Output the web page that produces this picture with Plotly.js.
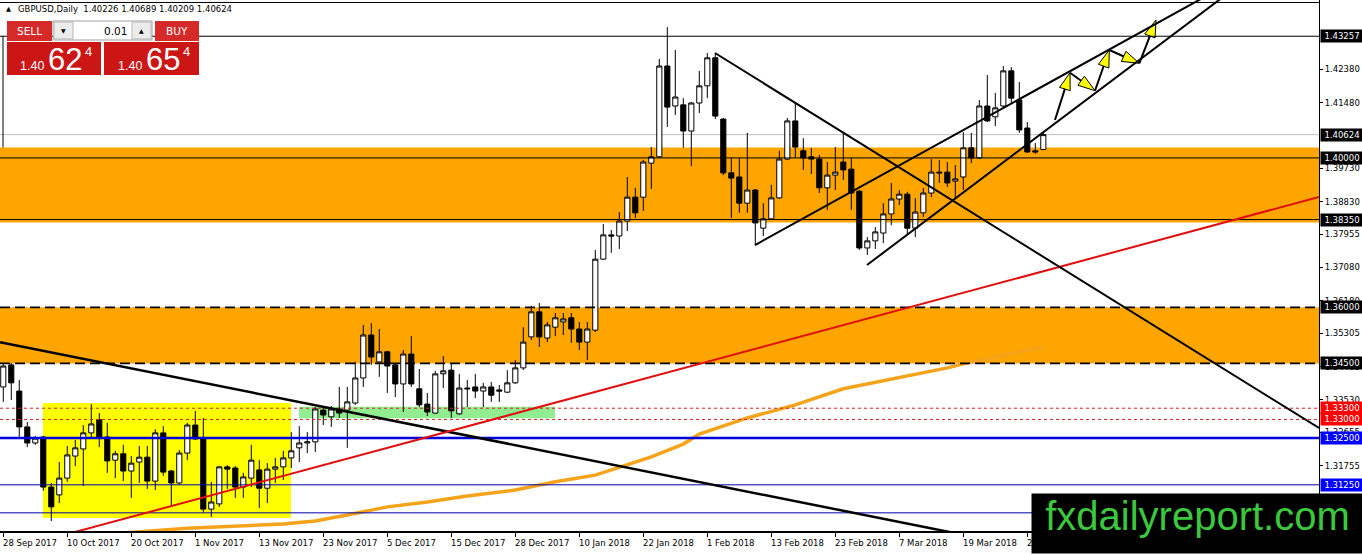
<!DOCTYPE html>
<html><head><meta charset="utf-8">
<script src="https://cdn.plot.ly/plotly-3.0.1.min.js"></script>
<style>html,body{margin:0;padding:0;background:#fff;overflow:hidden}#chart{width:1362px;height:554px}</style>
</head><body><div id="chart"></div>
<script>
// ---------------- DATA ----------------
const dates = [
'2017-09-28','2017-09-29',
'2017-10-02','2017-10-03','2017-10-04','2017-10-05','2017-10-06',
'2017-10-09','2017-10-10','2017-10-11','2017-10-12','2017-10-13',
'2017-10-16','2017-10-17','2017-10-18','2017-10-19','2017-10-20',
'2017-10-23','2017-10-24','2017-10-25','2017-10-26','2017-10-27',
'2017-10-30','2017-10-31','2017-11-01','2017-11-02','2017-11-03',
'2017-11-06','2017-11-07','2017-11-08','2017-11-09','2017-11-10',
'2017-11-13','2017-11-14','2017-11-15','2017-11-16','2017-11-17',
'2017-11-20','2017-11-21','2017-11-22','2017-11-23','2017-11-24',
'2017-11-27','2017-11-28','2017-11-29','2017-11-30','2017-12-01',
'2017-12-04','2017-12-05','2017-12-06','2017-12-07','2017-12-08',
'2017-12-11','2017-12-12','2017-12-13','2017-12-14','2017-12-15',
'2017-12-18','2017-12-19','2017-12-20','2017-12-21','2017-12-22',
'2017-12-26','2017-12-27','2017-12-28','2017-12-29',
'2018-01-02','2018-01-03','2018-01-04','2018-01-05',
'2018-01-08','2018-01-09','2018-01-10','2018-01-11','2018-01-12',
'2018-01-15','2018-01-16','2018-01-17','2018-01-18','2018-01-19',
'2018-01-22','2018-01-23','2018-01-24','2018-01-25','2018-01-26',
'2018-01-29','2018-01-30','2018-01-31','2018-02-01','2018-02-02',
'2018-02-05','2018-02-06','2018-02-07','2018-02-08','2018-02-09',
'2018-02-12','2018-02-13','2018-02-14','2018-02-15','2018-02-16',
'2018-02-19','2018-02-20','2018-02-21','2018-02-22','2018-02-23',
'2018-02-26','2018-02-27','2018-02-28','2018-03-01','2018-03-02',
'2018-03-05','2018-03-06','2018-03-07','2018-03-08','2018-03-09',
'2018-03-12','2018-03-13','2018-03-14','2018-03-15','2018-03-16',
'2018-03-19','2018-03-20','2018-03-21','2018-03-22','2018-03-23',
'2018-03-26','2018-03-27','2018-03-28','2018-03-29','2018-03-30',
'2018-04-02'];

const open = [1.3387,1.3446,1.3376,1.3280,1.3237,1.3253,1.3119,1.3098,1.3143,1.3202,
1.3221,1.3264,1.3299,1.3253,1.3191,1.3208,1.3162,1.3186,1.3199,1.3135,
1.3264,1.3162,1.3130,1.3210,1.3285,1.3248,1.3060,1.3074,1.3173,1.3170,
1.3119,1.3143,1.3165,1.3116,1.3167,1.3173,1.3197,1.3224,1.3237,1.3240,
1.3325,1.3307,1.3328,1.3325,1.3344,1.3411,1.3526,1.3454,1.3481,1.3446,
1.3395,1.3475,1.3382,1.3341,1.3317,1.3422,1.3432,1.3315,1.3384,1.3387,
1.3376,1.3387,1.3379,1.3373,1.3398,1.3438,1.3521,1.3588,1.3518,1.3547,
1.3561,1.3572,1.3542,1.3507,1.3539,1.3729,1.3794,1.3791,1.3831,1.3895,
1.3895,1.3986,1.4003,1.4246,1.4139,1.4142,1.4072,1.4147,1.4193,1.4268,
1.4104,1.3960,1.3949,1.3879,1.3914,1.3812,1.3837,1.3893,1.3997,1.4099,
1.4019,1.4003,1.3997,1.3920,1.3954,1.3989,1.3970,1.3911,1.3759,1.3778,
1.3799,1.3850,1.3890,1.3903,1.3812,1.3853,1.3906,1.3962,1.3962,1.3938,
1.3949,1.4027,1.4000,1.4139,1.4110,1.4139,1.4233,1.4155,1.4080,1.4019,
1.40226];
const high = [1.3451,1.3451,1.3406,1.3293,1.3256,1.3256,1.3130,1.3186,1.3229,1.3245,
1.3285,1.3341,1.3317,1.3291,1.3216,1.3232,1.3202,1.3229,1.3229,1.3274,
1.3282,1.3165,1.3218,1.3291,1.3323,1.3304,1.3133,1.3175,1.3178,1.3175,
1.3157,1.3232,1.3191,1.3183,1.3197,1.3216,1.3266,1.3282,1.3266,1.3333,
1.3333,1.3336,1.3387,1.3387,1.3454,1.3553,1.3558,1.3542,1.3484,1.3449,
1.3486,1.3523,1.3435,1.3371,1.3430,1.3470,1.3451,1.3422,1.3406,1.3422,
1.3398,1.3400,1.3392,1.3432,1.3459,1.3547,1.3604,1.3612,1.3561,1.3585,
1.3585,1.3585,1.3561,1.3561,1.3754,1.3823,1.3807,1.3855,1.3949,1.3920,
1.3994,1.4029,1.4265,1.4350,1.4289,1.4160,1.4150,1.4233,1.4281,1.4281,
1.4107,1.4000,1.4000,1.4067,1.3917,1.3879,1.3928,1.4019,1.4107,1.4147,
1.4053,1.4027,1.4008,1.3989,1.4029,1.4067,1.4000,1.3914,1.3788,1.3815,
1.3879,1.3933,1.3914,1.3909,1.3893,1.3920,1.3997,1.3994,1.3989,1.3981,
1.4069,1.4067,1.4155,1.4222,1.4174,1.4246,1.4243,1.4203,1.4096,1.4040,
1.40689];
const low = [1.3347,1.3352,1.3253,1.3226,1.3232,1.3109,1.3028,1.3076,1.3133,1.3175,
1.3122,1.3250,1.3226,1.3157,1.3143,1.3135,1.3090,1.3130,1.3114,1.3111,
1.3149,1.3071,1.3125,1.3191,1.3245,1.3050,1.3039,1.3066,1.3114,1.3090,
1.3090,1.3119,1.3063,1.3076,1.3130,1.3138,1.3170,1.3186,1.3210,1.3213,
1.3285,1.3280,1.3304,1.3224,1.3339,1.3387,1.3446,1.3414,1.3371,1.3360,
1.3320,1.3387,1.3333,1.3309,1.3315,1.3384,1.3304,1.3312,1.3333,1.3357,
1.3333,1.3347,1.3347,1.3371,1.3395,1.3432,1.3513,1.3494,1.3507,1.3523,
1.3526,1.3505,1.3486,1.3459,1.3534,1.3727,1.3746,1.3756,1.3804,1.3839,
1.3858,1.3917,1.4000,1.4083,1.4115,1.4027,1.3978,1.4120,1.4160,1.4104,
1.3954,1.3839,1.3853,1.3853,1.3767,1.3791,1.3834,1.3890,1.3994,1.4000,
1.3968,1.3957,1.3906,1.3861,1.3914,1.3941,1.3861,1.3754,1.3740,1.3756,
1.3772,1.3820,1.3874,1.3794,1.3788,1.3842,1.3895,1.3933,1.3922,1.3893,
1.3914,1.3986,1.3997,1.4096,1.4085,1.4133,1.4147,1.4067,1.4013,1.4011,
1.40209];
const close = [1.3443,1.3398,1.3280,1.3237,1.3250,1.3119,1.3066,1.3143,1.3205,1.3224,
1.3264,1.3288,1.3253,1.3189,1.3208,1.3162,1.3183,1.3199,1.3135,1.3264,
1.3159,1.3130,1.3210,1.3285,1.3248,1.3060,1.3079,1.3173,1.3167,1.3119,
1.3146,1.3191,1.3116,1.3167,1.3173,1.3197,1.3216,1.3237,1.3240,1.3328,
1.3312,1.3328,1.3317,1.3347,1.3411,1.3526,1.3467,1.3481,1.3443,1.3395,
1.3475,1.3395,1.3339,1.3320,1.3422,1.3430,1.3323,1.3384,1.3382,1.3376,
1.3387,1.3365,1.3376,1.3398,1.3438,1.3507,1.3588,1.3521,1.3553,1.3572,
1.3569,1.3542,1.3507,1.3542,1.3729,1.3794,1.3791,1.3831,1.3895,1.3853,
1.3989,1.4003,1.4246,1.4136,1.4163,1.4072,1.4147,1.4193,1.4268,1.4112,
1.3960,1.3946,1.3879,1.3914,1.3826,1.3837,1.3893,1.3997,1.4099,1.4029,
1.4000,1.3997,1.3920,1.3954,1.3962,1.3968,1.3906,1.3759,1.3778,1.3802,
1.3850,1.3890,1.3903,1.3812,1.3855,1.3906,1.3962,1.3960,1.3933,1.3944,
1.4027,1.4000,1.4139,1.4099,1.4134,1.4233,1.4160,1.4075,1.4016,1.4016,
1.40624];

// moving average (bar index, price)
const maIdx = [15,23,35,39,43,48,53,58,64,69,74,77,81,85,87,93,99,105,112,118,121,130];
const maVal = [1.2996,1.3009,1.3020,1.3028,1.3044,1.3066,1.3079,1.3095,1.3111,1.3133,1.3151,1.3173,1.3200,1.3234,1.3261,1.3304,1.3339,1.3382,1.3411,1.3438,1.3454,1.3494];

const xLabelDates = ['2017-09-28','2017-10-10','2017-10-20','2017-11-01','2017-11-13','2017-11-23',
'2017-12-05','2017-12-15','2017-12-28','2018-01-10','2018-01-22','2018-02-01','2018-02-13',
'2018-02-23','2018-03-07','2018-03-19','2018-03-29'];
const months = ['Jan','Feb','Mar','Apr','May','Jun','Jul','Aug','Sep','Oct','Nov','Dec'];

const yTicks = [1.42380,1.41480,1.39730,1.38830,1.37955,1.37080,1.36180,1.35305,1.34405,1.33530,1.32655,1.31755];

const levelTop = [1.43257];
const levelsSolid = [1.40000,1.38350];
const levelsDashed = [1.36000,1.34500];
const levelsRed = [1.33300,1.33000];
const levelBlueThick = [1.32500];
const levelsBlueThin = [1.31250,1.30500];
const askPrice = 1.40654;
const lotSize = '0.01';

const orangeZones = [[1.4028,1.3827],[1.3600,1.3450]];
const yellowBox = [4.96, 35.96, 1.3036, 1.3344];   // idx0, idx1, p0, p1
const greenBox  = [36.96, 68.96, 1.3303, 1.3334];

// trend lines [idx0, p0, idx1, p1]
const longLine   = [-0.41, 1.3507, 119.6, 1.2993];
const redLine    = [8.96, 1.29987, 164.46, 1.38954];
const triDown    = [88.96, 1.42808, 164.46, 1.32771];
const wedgeUpper = [93.96, 1.37669, 150.6, 1.44361];
const wedgeLower = [107.96, 1.37134, 152.8, 1.44361];
const leftVert   = [1.43257, 1.4028];

// zig-zag arrows (idx, price)
const arrowIdx = [131.46,133.34,136.46,138.25,142.0,144.09];
const arrowVal = [1.41015,1.42281,1.41799,1.42889,1.42533,1.43692];

const labelBoxes = [
 [1.43257,'#000000'],[1.40624,'#000000'],[1.40000,'#000000'],[1.38350,'#000000'],
 [1.36000,'#000000'],[1.34500,'#000000'],[1.33300,'#ff0000'],[1.33000,'#ff0000'],
 [1.32500,'#0000ff'],[1.31250,'#0000ff']];

// ---------------- LAYOUT ----------------
const W = 1319, H = 531;
const X = px => px / W;
const Y = py => 1 - py / H;
const xRange = [-0.41, 164.46];
const yRange = [1.30014, 1.44227];
const n = close.length;
const xIdx = dates.map((d, i) => i);
const fmtDate = d => { const p = d.split('-'); return parseInt(p[2], 10) + ' ' + months[parseInt(p[1], 10) - 1] + ' ' + p[0]; };
const tickIdx = xLabelDates.map(d => dates.indexOf(d));
const UI = 'DejaVu Sans';

const shapes = [];
orangeZones.forEach(z => shapes.push({type:'rect', xref:'paper', yref:'y', x0:0, x1:1, y0:z[0], y1:z[1], fillcolor:'#FFA500', line:{width:0}, layer:'below'}));
shapes.push({type:'rect', xref:'x', yref:'y', x0:yellowBox[0], x1:yellowBox[1], y0:yellowBox[2], y1:yellowBox[3], fillcolor:'#FFFF00', line:{width:0}, layer:'below'});
shapes.push({type:'rect', xref:'x', yref:'y', x0:greenBox[0], x1:greenBox[1], y0:greenBox[2], y1:greenBox[3], fillcolor:'#90EE90', line:{width:0}, layer:'below'});
const hl = (v, color, width, dash, layer) => shapes.push({type:'line', xref:'paper', yref:'y', x0:0, x1:1, y0:v, y1:v, line:{color, width, dash: dash || 'solid'}, layer: layer || 'above'});
hl(close[n-1], '#c0c0c0', 1, 'solid', 'below');
levelTop.forEach(v => hl(v, '#000', 1));
levelsSolid.forEach(v => hl(v, '#000', 1));
levelsDashed.forEach(v => hl(v, '#000', 1.6, '10px,5px'));
levelsRed.forEach(v => hl(v, '#d42020', 1, '3px,3px'));
levelBlueThick.forEach(v => hl(v, '#0000dd', 2.5));
levelsBlueThin.forEach(v => hl(v, '#0000aa', 1));
shapes.push({type:'line', xref:'paper', yref:'y', x0:X(3), x1:X(3), y0:leftVert[0], y1:leftVert[1], line:{color:'#000', width:1}});
shapes.push({type:'line', xref:'paper', yref:'paper', x0:0, x1:1, y0:Y(2.5), y1:Y(2.5), line:{color:'#000', width:1}});
const tl = (a, color, width) => shapes.push({type:'line', xref:'x', yref:'y', x0:a[0], y0:a[1], x1:a[2], y1:a[3], line:{color, width}});
tl(longLine, '#000', 2.5);
tl(redLine, '#e01010', 2);
tl(triDown, '#000', 2);
tl(wedgeUpper, '#000', 2);
tl(wedgeLower, '#000', 2);

// trading panel
const rp = (x0, y0, x1, y1, fill, lc) => shapes.push({type:'rect', xref:'paper', yref:'paper', x0:X(x0), x1:X(x1), y0:Y(y1), y1:Y(y0), fillcolor:fill, line:{width: lc ? 1 : 0, color: lc || fill}, layer:'above'});
rp(7, 21, 52, 41, '#d62a2a');
rp(53, 21, 152, 40, '#ffffff', '#a0a0a0');
rp(54, 22, 73, 39, '#ececec', '#b8b8b8');
rp(132, 22, 151, 39, '#ececec', '#b8b8b8');
rp(155, 21, 199, 41, '#d62a2a');
rp(7, 42, 101, 75, '#cc1616');
rp(104, 42, 199, 75, '#cc1616');

const ann = [];
const pa = (px, py, text, font, xanchor, extra) => ann.push(Object.assign({xref:'paper', yref:'paper', x:X(px), y:Y(py), text, font, xanchor: xanchor || 'left', yanchor:'middle', showarrow:false, borderpad:0}, extra || {}));
const f5 = v => v.toFixed(5);
pa(5, 8.5, '▲', {family:UI, size:6.5, color:'#000'});
pa(17, 8.5, 'GBPUSD,Daily\u00a0\u00a0' + [open[n-1], high[n-1], low[n-1], close[n-1]].map(f5).join(' '), {family:UI, size:8.5, color:'#000'});
pa(29.5, 31, 'SELL', {family:UI, size:10.5, color:'#fff'}, 'center');
pa(176.5, 31, 'BUY', {family:UI, size:10.5, color:'#fff'}, 'center');
pa(63.5, 30, '▼', {family:UI, size:6, color:'#000'}, 'center');
pa(141.5, 30, '▲', {family:UI, size:6, color:'#000'}, 'center');
pa(128, 30.5, lotSize, {family:UI, size:10.5, color:'#000'}, 'right');
const priceParts = v => { const s = f5(v); return [s.slice(0, 4), s.slice(4, 6), s.slice(6)]; };
const bp = priceParts(close[n-1]), ap = priceParts(askPrice);
[[bp, 19], [ap, 117]].forEach(([p, x0]) => {
  pa(x0, 66.5, p[0], {family:'Liberation Sans', size:12.5, color:'#fff'});
  pa(x0 + 28, 60, p[1], {family:'Liberation Sans', size:31, color:'#fff'});
  pa(x0 + 65, 51.5, p[2], {family:'Liberation Sans', size:13, color:'#fff'});
});
// right-axis boxed labels
labelBoxes.forEach(([v, bg]) => ann.push({xref:'paper', yref:'y', x:X(1320), y:v, xanchor:'left', yanchor:'middle', text:f5(v), showarrow:false, bgcolor:bg, borderpad:1, width:40, height:10, align:'center', font:{family:UI, size:8.5, color:'#fff'}}));
// date labels
tickIdx.forEach((ix, k) => ann.push({xref:'x', yref:'paper', x:ix, y:Y(543), xanchor:'left', yanchor:'middle', xshift:-2, text:fmtDate(xLabelDates[k]), showarrow:false, font:{family:UI, size:8.5, color:'#000'}}));
// logo
ann.push({xref:'paper', yref:'paper', x:X(1031), y:Y(554), xanchor:'left', yanchor:'bottom', text:'fxdailyreport.com', showarrow:false, bgcolor:'#000', width:331, height:59, borderpad:0, align:'center', valign:'top', font:{family:'Liberation Sans', size:40, color:'#3cc83c'}});

const traces = [
 {type:'candlestick', x:xIdx, open, high, low, close, whiskerwidth:0, hoverinfo:'skip',
  increasing:{line:{color:'#000', width:1}, fillcolor:'#ffffff'},
  decreasing:{line:{color:'#000', width:1}, fillcolor:'#000000'}, showlegend:false},
 {type:'scatter', mode:'lines', x:maIdx, y:maVal, line:{color:'#f5a31a', width:3.5}, hoverinfo:'skip', showlegend:false},
 {type:'scatter', mode:'lines+markers', x:arrowIdx, y:arrowVal, line:{color:'#000', width:2},
  marker:{symbol:'arrow', size:18, angleref:'previous', color:'#ffff00', line:{color:'#000', width:1}}, hoverinfo:'skip', showlegend:false}
];

const layout = {
  width:1362, height:554, margin:{l:0, r:43, t:0, b:23, pad:0},
  paper_bgcolor:'#fff', plot_bgcolor:'#fff', showlegend:false, hovermode:false,
  boxgap:0.2, boxgroupgap:0.2,
  font:{family:UI, size:8.5, color:'#000'},
  xaxis:{type:'linear', range:xRange, showgrid:false, zeroline:false, showline:true, linecolor:'#000', linewidth:2,
    ticks:'outside', ticklen:4, tickcolor:'#000', tickvals:tickIdx, showticklabels:false, rangeslider:{visible:false}, fixedrange:true},
  yaxis:{side:'right', range:yRange, showgrid:false, zeroline:false, showline:true, linecolor:'#000', linewidth:1,
    ticks:'outside', ticklen:3, tickcolor:'#000', tickvals:yTicks, ticktext:yTicks.map(f5),
    tickfont:{family:UI, size:8.5, color:'#000'}, fixedrange:true},
  shapes, annotations:ann
};
Plotly.newPlot('chart', traces, layout, {staticPlot:true, displayModeBar:false});
</script></body></html>
